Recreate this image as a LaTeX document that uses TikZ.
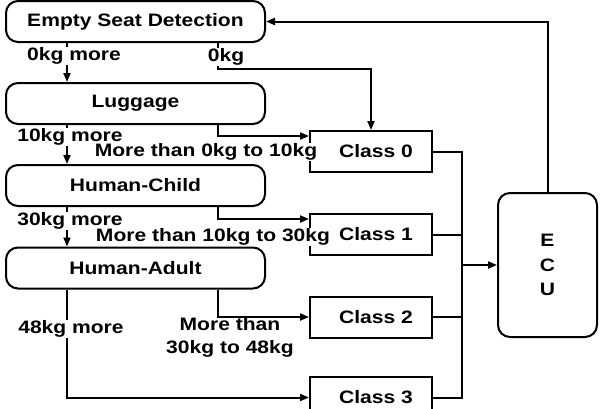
\documentclass[tikz,border=0pt]{standalone}
\usepackage{fontspec}
\setmainfont{Liberation Sans}[FakeStretch=1.17]
\usetikzlibrary{arrows.meta,calc}
\begin{document}
\begin{tikzpicture}[x=1pt,y=-1pt, line width=2pt,
  every node/.style={font=\fontsize{18}{23}\selectfont\bfseries},
  rbox/.style={draw, rounded corners=12pt, minimum width=259pt, minimum height=41pt, inner sep=0pt},
  cbox/.style={draw, minimum width=122pt, minimum height=41pt, inner sep=0pt},
  lbl/.style={fill=white, inner sep=1pt},
  arr/.style={-{Triangle[length=9pt,width=7pt]}}]
\useasboundingbox (0,0) rectangle (610,408);
\coordinate (xl) at (67,0);
\coordinate (xm) at (218,0);
\coordinate (bus) at (462,0);
% boxes
\node[rbox] (esd) at (135.5,21.5) {Empty Seat Detection};
\node[rbox] (lug) at (135.5,103.5) {Luggage};
\node[rbox] (child) at (135.5,185.5) {Human-Child};
\node[rbox] (adult) at (135.5,268) {Human-Adult};
\node[cbox] (c0) at (371,151.5) {\hspace*{10pt}Class 0};
\node[cbox] (c1) at (371,234.5) {\hspace*{10pt}Class 1};
\node[cbox] (c2) at (371,317) {\hspace*{10pt}Class 2};
\node[cbox] (c3) at (371,397.5) {\hspace*{10pt}Class 3};
\node[draw, rounded corners=12pt, minimum width=99pt, minimum height=144pt, align=center,
  font=\fontsize{18}{24.5}\selectfont\bfseries] (ecu) at (547.5,265) {E\\C\\U};
% helper coordinates
\coordinate (k0) at (218,69);
\coordinate (a0) at ($(c0.north west)+(0,6)$);
\coordinate (a1) at ($(c1.north west)+(0,6)$);
% connectors
\draw[arr] (esd.south -| xl) -- (lug.north -| xl);
\draw[arr] (esd.south -| xm) -- (k0) -| (c0.north);
\draw[arr] (lug.south -| xl) -- (child.north -| xl);
\draw[arr] (lug.south -| xm) |- (a0);
\draw[arr] (child.south -| xl) -- (adult.north -| xl);
\draw[arr] (child.south -| xm) |- (a1);
\draw[arr] (adult.south -| xl) |- (c3.west);
\draw[arr] (adult.south -| xm) |- (c2.west);
\draw (c0.east) -- (c0.east -| bus) -- (c3.east -| bus) -- (c3.east);
\draw (c1.east) -- (c1.east -| bus);
\draw (c2.east) -- (c2.east -| bus);
\draw[arr] (ecu.west -| bus) -- (ecu.west);
\draw[arr] (ecu.north) -- (ecu.north |- esd.east) -- (esd.east);
% labels
\node[lbl] (l1) at (74,56) {0kg more};
\node[lbl] (l2) at (226,57) {0kg};
\node[lbl] (l3) at (70,137) {10kg more};
\node[lbl] (l4) at (206,152) {More than 0kg to 10kg};
\node[lbl] (l5) at (70,221) {30kg more};
\node[lbl] (l6) at (213,237) {More than 10kg to 30kg};
\node[lbl] (l7) at (71,329) {48kg more};
\node[align=center, inner sep=0pt] (l8) at (230,337) {More than\\30kg to 48kg};
\end{tikzpicture}
\end{document}
